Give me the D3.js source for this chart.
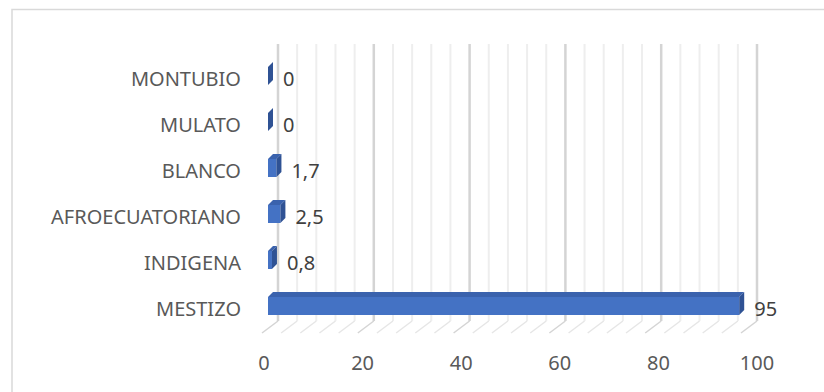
<!DOCTYPE html>
<html>
<head>
<meta charset="utf-8">
<script src="https://cdn.jsdelivr.net/npm/d3@7"></script>
<style>
  body { margin: 0; background: #fff; }
  text { font-family: "Noto Sans", "Open Sans", sans-serif; }
</style>
</head>
<body>
<div class="chart"></div>
<script>
var categories = ["MONTUBIO", "MULATO", "BLANCO", "AFROECUATORIANO", "INDIGENA", "MESTIZO"];
var values = [0, 0, 1.7, 2.5, 0.8, 95];
var ticks = [0, 20, 40, 60, 80, 100];

const width = 824, height = 392;
const depth = 5;      // 3d offset of the bars
const barH = 18;
const fs = 20;

var svg = d3.select(".chart").append("svg")
    .attr("width", width)
    .attr("height", height);

// chart border
svg.append("rect")
    .attr("x", 12).attr("y", 9.5)
    .attr("width", 830).attr("height", 400)
    .attr("fill", "#fff")
    .attr("stroke", "#d9d9d9")
    .attr("stroke-width", 1.5);

// scales: back wall, bars, labels on the floor front
var xBack = d3.scaleLinear().domain([0, 100]).range([278, 757]);
var xBar = d3.scaleLinear().domain([0, 100]).range([268, 764]);
var xLabel = d3.scaleLinear().domain([0, 100]).range([264, 757]);
var y = d3.scaleBand().domain(categories).range([53, 329]);

var wallTop = 44, wallBottom = 321;
var minor = d3.range(0, 101, 4);

// back wall gridlines
var g1 = svg.append("g");
g1.selectAll("line.grid")
    .data(minor)
    .join("line")
    .attr("class", "grid")
    .attr("x1", d => xBack(d)).attr("x2", d => xBack(d))
    .attr("y1", wallTop).attr("y2", wallBottom)
    .attr("stroke", d => d % 20 === 0 ? "#d4d4d4" : "#eeeeee")
    .attr("stroke-width", d => d % 20 === 0 ? 2.5 : 2);

// floor lines
g1.selectAll("line.floor")
    .data(minor)
    .join("line")
    .attr("class", "floor")
    .attr("x1", d => xBack(d)).attr("y1", wallBottom)
    .attr("x2", d => xBack(d) - 16).attr("y2", wallBottom + 12)
    .attr("stroke", d => d % 20 === 0 ? "#d4d4d4" : "#e6e6e6")
    .attr("stroke-width", 1.5);

// bars
var g2 = svg.append("g");
var bars = g2.selectAll("g.bar")
    .data(categories.map((c, i) => ({ cat: c, val: values[i] })))
    .join("g")
    .attr("class", "bar");

function cy(d) { return y(d.cat) + y.bandwidth() / 2; }

bars.append("rect")
    .attr("x", xBar(0))
    .attr("y", d => cy(d) - barH / 2)
    .attr("width", d => xBar(d.val) - xBar(0))
    .attr("height", barH)
    .attr("fill", "#4472c4");

bars.append("polygon")
    .attr("points", d => {
        var x0 = xBar(0), x1 = xBar(d.val), t = cy(d) - barH / 2;
        return [[x0, t], [x1, t], [x1 + depth, t - depth], [x0 + depth, t - depth]].join(" ");
    })
    .attr("fill", "#3a62ad");

bars.append("polygon")
    .attr("points", d => {
        var x1 = xBar(d.val), t = cy(d) - barH / 2, b = cy(d) + barH / 2;
        return [[x1, t], [x1 + depth, t - depth], [x1 + depth, b - depth], [x1, b]].join(" ");
    })
    .attr("fill", "#2f5294");

// value labels
g2.selectAll("text.val")
    .data(categories.map((c, i) => ({ cat: c, val: values[i] })))
    .join("text")
    .attr("class", "val")
    .attr("x", d => xBar(d.val) + depth + 10)
    .attr("y", d => cy(d) + 5)
    .attr("dominant-baseline", "middle")
    .attr("font-size", fs)
    .attr("fill", "#404040")
    .text(d => String(d.val).replace(".", ","));

// category labels
svg.append("g").selectAll("text")
    .data(categories)
    .join("text")
    .attr("x", 241)
    .attr("y", d => y(d) + y.bandwidth() / 2 + 5)
    .attr("text-anchor", "end")
    .attr("dominant-baseline", "middle")
    .attr("font-size", fs)
    .attr("fill", "#595959")
    .text(d => d);

// x tick labels
svg.append("g").selectAll("text")
    .data(ticks)
    .join("text")
    .attr("x", d => xLabel(d))
    .attr("y", 365)
    .attr("text-anchor", "middle")
    .attr("dominant-baseline", "middle")
    .attr("font-size", fs)
    .attr("fill", "#595959")
    .text(d => d);
</script>
</body>
</html>
